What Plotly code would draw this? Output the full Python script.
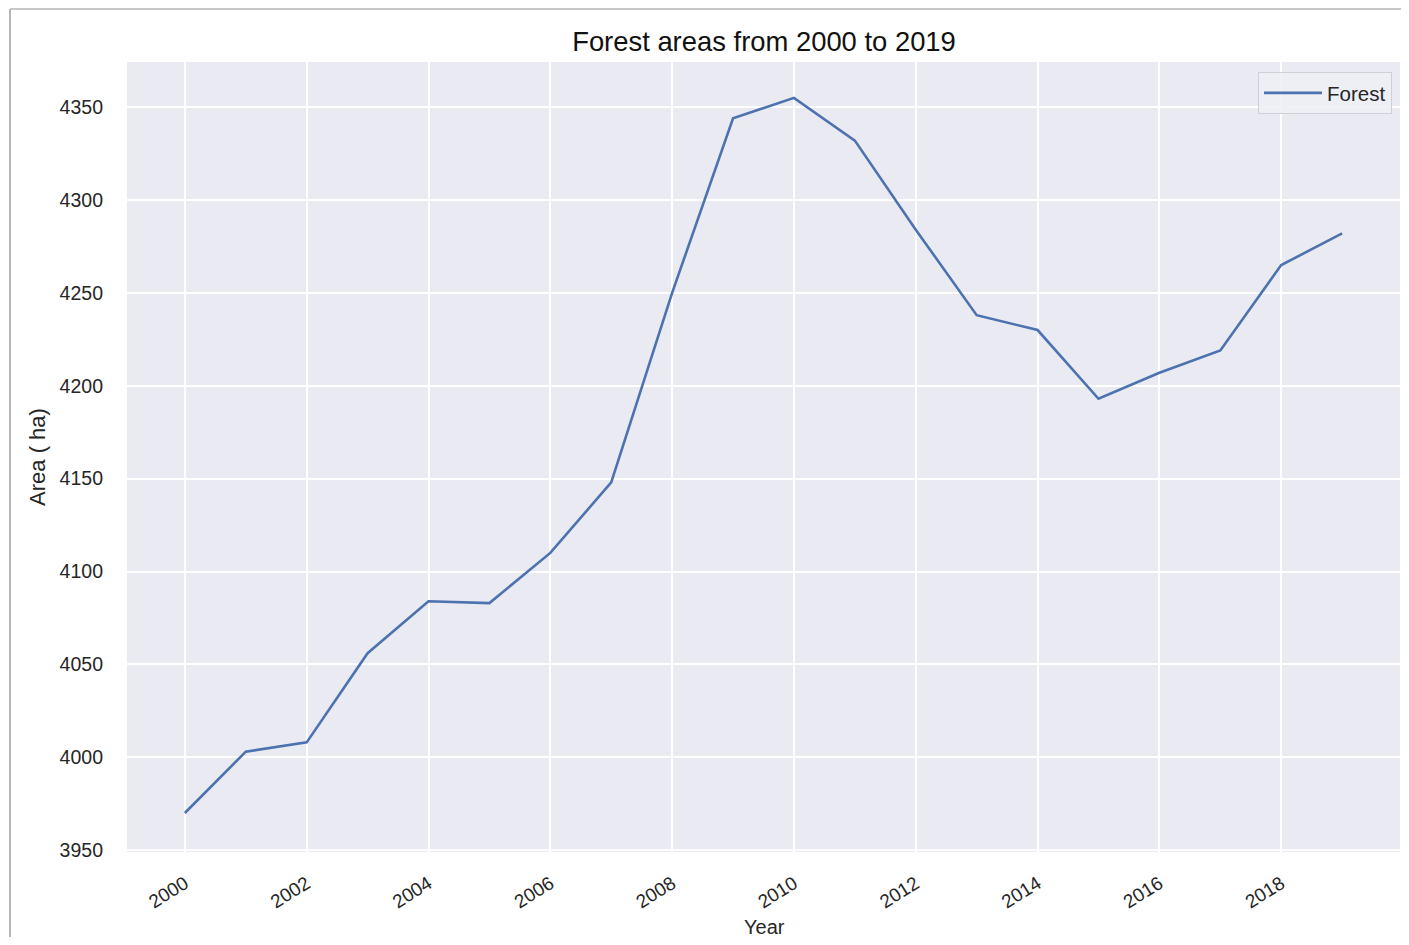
import plotly.graph_objects as go

# ---- data ----
years = list(range(2000, 2020))
forest_area = [3970, 4003, 4008, 4056, 4084, 4083, 4110, 4148, 4250, 4344,
               4355, 4332, 4284, 4238, 4230, 4193, 4207, 4219, 4265, 4282]
x_ticks = list(range(2000, 2020, 2))
y_ticks = list(range(3950, 4351, 50))

# page body has an 8px margin; layout below is expressed in figure pixels
OFF = 8
W, H = 1393, 929
L, R, T, B = 127 - OFF, W - (1400 - OFF), 62 - OFF, H - (852 - OFF)
pw, ph = W - L - R, H - T - B


def px_x(p):
    return (p - OFF - L) / pw


def px_y(p):
    return (H - B - (p - OFF)) / ph


FONT = "Liberation Sans, Arial, sans-serif"
TXT = "#262626"

fig = go.Figure()
fig.add_trace(go.Scatter(
    x=years, y=forest_area, mode="lines", name="Forest",
    line=dict(color="#4C72B0", width=2.6),
))

fig.update_layout(
    width=W, height=H,
    margin=dict(l=L, r=R, t=T, b=B, autoexpand=False),
    paper_bgcolor="white",
    plot_bgcolor="#EAEAF2",
    font=dict(family=FONT, color=TXT),
    title=dict(text="Forest areas from 2000 to 2019", x=px_x(764), xref="paper",
               xanchor="center", y=1 - (41 - OFF) / H, yanchor="middle",
               font=dict(size=27.4, color="#111111")),
    showlegend=True,
    legend=dict(x=px_x(1392), y=px_y(72), xanchor="right", yanchor="top",
                bgcolor="rgba(238,238,245,0.9)", bordercolor="#CFCFD6",
                borderwidth=1, font=dict(size=20.5, color=TXT),
                itemwidth=58),
    xaxis=dict(
        range=[1999.05, 2019.95], tickvals=x_ticks, tickangle=-32,
        showgrid=True, gridcolor="white", gridwidth=2, zeroline=False,
        showline=False, ticks="", tickfont=dict(size=19, color=TXT),
        ticklabelstandoff=16,
    ),
    yaxis=dict(
        range=[3949, 4374.3], tickvals=y_ticks,
        showgrid=True, gridcolor="white", gridwidth=2, zeroline=False,
        showline=False, ticks="", tickfont=dict(size=19.5, color=TXT),
        ticklabelstandoff=23,
        title=dict(text="Area ( ha)", font=dict(size=22, color=TXT), standoff=7),
    ),
    annotations=[
        dict(text="Year", xref="paper", yref="paper", x=px_x(764), y=px_y(927),
             xanchor="center", yanchor="middle", showarrow=False,
             font=dict(size=20, color=TXT)),
    ],
    shapes=[
        dict(type="line", xref="paper", yref="paper",
             x0=px_x(10), x1=px_x(10), y0=px_y(9), y1=px_y(945),
             line=dict(color="#B5B5B5", width=2)),
        dict(type="line", xref="paper", yref="paper",
             x0=px_x(10), x1=px_x(1412), y0=px_y(9), y1=px_y(9),
             line=dict(color="#C8C8C8", width=2)),
    ],
)

fig.write_html("out.html")
